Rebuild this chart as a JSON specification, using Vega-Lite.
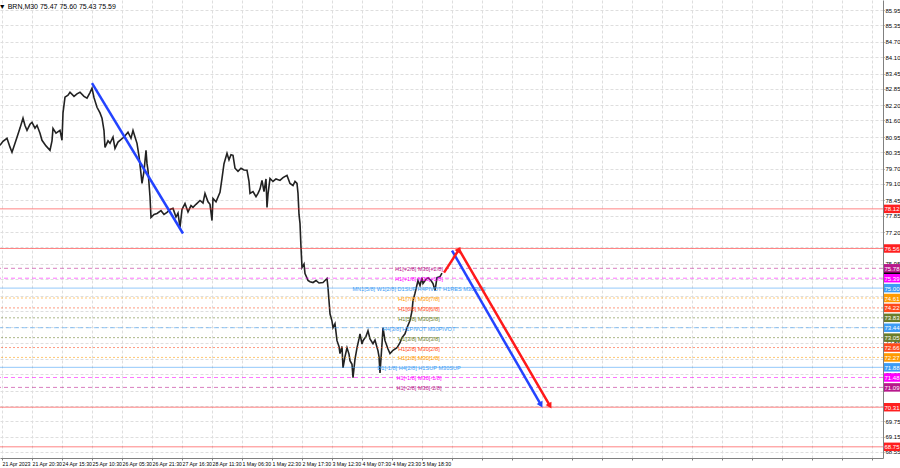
{
  "$schema": "https://vega.github.io/schema/vega-lite/v6.json",
  "width": 883,
  "height": 458,
  "autosize": {"type": "none"},
  "padding": {"left": 0, "top": 0, "right": 17, "bottom": 10},
  "background": "white",
  "config": {
    "view": {"stroke": null},
    "font": "Liberation Sans",
    "axis": {"labelOverlap": false, "labelFlush": false, "labelBound": false, "labelColor": "#000000", "labelFont": "Liberation Sans", "labelFontSize": 6, "tickColor": "#808080", "domainColor": "#808080", "gridColor": "#dedede", "gridDash": [3, 2], "grid": true, "tickSize": 1}
  },
  "resolve": {"axis": {"x": "independent", "y": "independent"}},
  "title": {"text": "▼ BRN,M30  75.47 75.60 75.43 75.59", "anchor": "start", "orient": "top", "offset": -10, "fontSize": 7, "fontWeight": "normal", "color": "#000000", "dx": 2},
  "datasets": {
    "price": [
      {"i":0,"p":80.62},{"i":3,"p":80.78},{"i":7,"p":80.9},{"i":10,"p":80.55},{"i":12,"p":80.35},{"i":15,"p":80.7},{"i":17,"p":80.94},{"i":20,"p":81.3},{"i":23,"p":81.69},{"i":25,"p":81.4},{"i":27,"p":81.21},{"i":30,"p":81.45},{"i":32,"p":81.53},{"i":35,"p":81.3},{"i":37,"p":81.41},{"i":40,"p":81.1},{"i":42,"p":80.82},{"i":46,"p":80.6},{"i":50,"p":80.43},{"i":52,"p":80.8},{"i":53,"p":81.29},{"i":56,"p":81.1},{"i":60,"p":81.21},{"i":62,"p":80.82},{"i":63,"p":81.9},{"i":65,"p":82.52},{"i":68,"p":82.6},{"i":70,"p":82.71},{"i":74,"p":82.55},{"i":77,"p":82.65},{"i":80,"p":82.71},{"i":84,"p":82.55},{"i":87,"p":82.48},{"i":90,"p":82.7},{"i":92,"p":82.87},{"i":94,"p":82.5},{"i":97,"p":82.12},{"i":100,"p":81.9},{"i":102,"p":81.69},{"i":104,"p":81.2},{"i":105,"p":80.54},{"i":108,"p":80.8},{"i":110,"p":80.7},{"i":113,"p":80.95},{"i":115,"p":80.5},{"i":118,"p":80.75},{"i":120,"p":80.82},{"i":124,"p":80.95},{"i":128,"p":81.14},{"i":131,"p":80.9},{"i":133,"p":81.21},{"i":135,"p":80.95},{"i":137,"p":80.7},{"i":139,"p":80.2},{"i":141,"p":79.5},{"i":142,"p":79.12},{"i":144,"p":79.6},{"i":146,"p":80.43},{"i":147,"p":79.9},{"i":148,"p":79.64},{"i":150,"p":78.6},{"i":151,"p":77.78},{"i":154,"p":77.9},{"i":157,"p":77.94},{"i":161,"p":78.05},{"i":164,"p":77.9},{"i":167,"p":77.98},{"i":170,"p":78.1},{"i":173,"p":78.14},{"i":176,"p":77.8},{"i":178,"p":77.95},{"i":180,"p":77.39},{"i":182,"p":78.1},{"i":185,"p":78.33},{"i":188,"p":78.0},{"i":191,"p":78.25},{"i":193,"p":78.18},{"i":196,"p":78.3},{"i":200,"p":78.45},{"i":203,"p":78.35},{"i":205,"p":78.73},{"i":208,"p":78.4},{"i":210,"p":78.3},{"i":212,"p":77.66},{"i":213,"p":78.53},{"i":216,"p":78.4},{"i":220,"p":78.77},{"i":222,"p":79.32},{"i":224,"p":79.9},{"i":227,"p":80.31},{"i":229,"p":80.05},{"i":231,"p":80.25},{"i":233,"p":80.23},{"i":235,"p":79.72},{"i":238,"p":79.6},{"i":241,"p":79.72},{"i":244,"p":79.65},{"i":247,"p":79.64},{"i":249,"p":79.2},{"i":250,"p":78.73},{"i":253,"p":78.8},{"i":256,"p":78.6},{"i":258,"p":78.73},{"i":260,"p":78.9},{"i":262,"p":79.24},{"i":264,"p":78.8},{"i":266,"p":79.3},{"i":267,"p":78.18},{"i":268,"p":78.7},{"i":270,"p":79.32},{"i":273,"p":79.2},{"i":276,"p":79.3},{"i":280,"p":79.24},{"i":283,"p":79.35},{"i":287,"p":79.44},{"i":290,"p":79.12},{"i":293,"p":79.04},{"i":295,"p":79.2},{"i":297,"p":79.12},{"i":298,"p":78.73},{"i":299,"p":77.9},{"i":300,"p":77.55},{"i":301,"p":76.6},{"i":302,"p":75.81},{"i":304,"p":75.95},{"i":305,"p":75.57},{"i":307,"p":75.4},{"i":308,"p":75.3},{"i":310,"p":75.25},{"i":313,"p":75.22},{"i":316,"p":75.3},{"i":319,"p":75.2},{"i":323,"p":75.22},{"i":325,"p":75.3},{"i":327,"p":75.38},{"i":328,"p":75.02},{"i":329,"p":74.5},{"i":330,"p":73.99},{"i":332,"p":73.7},{"i":333,"p":73.44},{"i":335,"p":73.6},{"i":337,"p":72.93},{"i":339,"p":72.7},{"i":340,"p":72.42},{"i":342,"p":72.7},{"i":343,"p":71.86},{"i":345,"p":72.3},{"i":347,"p":72.65},{"i":349,"p":72.4},{"i":350,"p":72.14},{"i":352,"p":72.0},{"i":353,"p":71.47},{"i":355,"p":72.2},{"i":357,"p":72.65},{"i":359,"p":73.0},{"i":360,"p":73.2},{"i":362,"p":72.8},{"i":363,"p":72.93},{"i":366,"p":73.1},{"i":368,"p":73.32},{"i":370,"p":73.0},{"i":373,"p":72.81},{"i":375,"p":72.95},{"i":378,"p":72.53},{"i":379,"p":72.3},{"i":380,"p":71.66},{"i":382,"p":72.8},{"i":383,"p":73.44},{"i":385,"p":72.93},{"i":388,"p":72.6},{"i":390,"p":72.42},{"i":393,"p":72.55},{"i":397,"p":72.65},{"i":400,"p":72.85},{"i":402,"p":73.05},{"i":405,"p":73.2},{"i":407,"p":73.44},{"i":410,"p":73.72},{"i":412,"p":74.1},{"i":413,"p":74.51},{"i":415,"p":74.8},{"i":418,"p":75.3},{"i":420,"p":75.1},{"i":422,"p":75.41},{"i":423,"p":75.18},{"i":426,"p":75.35},{"i":428,"p":75.41},{"i":431,"p":75.3},{"i":433,"p":75.18},{"i":435,"p":74.9},{"i":437,"p":75.41},{"i":440,"p":75.45},{"i":442,"p":75.59}
    ],
    "levels": [
      {"price":75.59,"lvl":"close"},
      {"price":78.12,"lvl":"ext"},
      {"price":76.56,"lvl":"ext"},
      {"price":75.78,"lvl":"+2/8","txt":"H1[+2/8] M30[+2/8]"},
      {"price":75.39,"lvl":"+1/8","txt":"H1[+1/8] M30[+1/8]"},
      {"price":75.0,"lvl":"8/8","txt":"MN1[5/8] W1[2/8] D1SUP H4PIVOT H1RES M30RES"},
      {"price":74.61,"lvl":"7/8","txt":"H1[7/8] M30[7/8]"},
      {"price":74.22,"lvl":"6/8","txt":"H1[6/8] M30[6/8]"},
      {"price":73.83,"lvl":"5/8","txt":"H1[5/8] M30[5/8]"},
      {"price":73.44,"lvl":"4/8","txt":"H4[3/8] H1PIVOT M30PIVOT"},
      {"price":73.05,"lvl":"3/8","txt":"H1[3/8] M30[3/8]"},
      {"price":72.66,"lvl":"2/8","txt":"H1[2/8] M30[2/8]"},
      {"price":72.27,"lvl":"1/8","txt":"H1[1/8] M30[1/8]"},
      {"price":71.88,"lvl":"0/8","txt":"D1[-1/8] H4[2/8] H1SUP M30SUP"},
      {"price":71.48,"lvl":"-1/8","txt":"H1[-1/8] M30[-1/8]"},
      {"price":71.09,"lvl":"-2/8","txt":"H1[-2/8] M30[-2/8]"},
      {"price":70.31,"lvl":"ext"},
      {"price":68.75,"lvl":"ext"}
    ],
    "trend": [
      {"id":"b1","seg":"blue","i":92,"p":83.07},
      {"id":"b1","seg":"blue","i":183,"p":77.15},
      {"id":"b2","seg":"blue","i":452,"p":76.48},
      {"id":"b2","seg":"blue","i":541,"p":70.4},
      {"id":"r1","seg":"red","i":444,"p":75.61},
      {"id":"r1","seg":"red","i":459,"p":76.52},
      {"id":"r1","seg":"red","i":550,"p":70.36}
    ],
    "headsDown": [
      {"seg":"blue","i":541,"p":70.4},
      {"seg":"red","i":550,"p":70.36}
    ],
    "headsUp": [
      {"seg":"red","i":459,"p":76.52}
    ]
  },
  "layer": [
    {
      "data": {"name": "price"},
      "mark": {"type": "line", "color": "#222222", "strokeWidth": 1.6},
      "encoding": {
        "x": {"field": "i", "type": "quantitative", "title": null, "scale": {"domain": [0, 883], "nice": false, "zero": false},
          "axis": {"orient": "bottom", "title": null, "values": [2,32,62,92,122,152,182,212,242,272,302,332,362,392,422,452,482,512,542,572,602,632,662,692,722,752,782,812,842,872],
            "labelExpr": "['21 Apr 2023','21 Apr 20:30','24 Apr 15:30','25 Apr 10:30','26 Apr 05:30','26 Apr 21:30','27 Apr 16:30','28 Apr 11:30','1 May 06:30','1 May 22:30','2 May 17:30','3 May 12:30','4 May 07:30','4 May 23:30','5 May 18:30'][round((datum.value-2)/30)] || ''",
            "labelAlign": "left", "labelFontSize": 5.2, "labelPadding": 1, "tickSize": 2, "labelOverlap": false}},
        "y": {"field": "p", "type": "quantitative", "title": null, "scale": {"domain": [68.31, 86.345], "nice": false, "zero": false},
          "axis": {"orient": "right", "title": null, "values": [85.95,85.35,84.7,84.1,83.45,82.85,82.2,81.6,80.95,80.35,79.7,79.1,78.45,77.85,77.2,76.6,75.95,75.35,74.7,74.1,73.45,72.85,72.2,71.6,70.95,70.35,69.75,69.15,68.55],
            "labelExpr": "indexof([76.6,75.35,74.7,74.1,73.45,72.2,70.95,70.35], datum.value) >= 0 ? '' : format(datum.value, '.2f')",
            "labelFontSize": 6, "labelPadding": 1, "tickSize": 1, "labelOverlap": false}}
      }
    },
    {
      "data": {"name": "levels"},
      "transform": [{"filter": "datum.lvl != 'close'"}],
      "mark": {"type": "rule", "strokeWidth": 1, "opacity": 0.55},
      "encoding": {
        "y": {"field": "price", "type": "quantitative", "axis": null, "scale": {"domain": [68.31, 86.345], "nice": false, "zero": false}},
        "color": {"field": "lvl", "type": "nominal", "legend": null,
          "scale": {"domain": ["ext","+2/8","+1/8","8/8","7/8","6/8","5/8","4/8","3/8","2/8","1/8","0/8","-1/8","-2/8","close","blue","red"],
            "range": ["#ff1f1f","#b8178c","#ff00ff","#3d9cf5","#ff9a00","#ff4a1a","#6b7d2a","#3d9cf5","#6b7d2a","#ff4a1a","#ff9a00","#3d9cf5","#ff00ff","#b8178c","#000000","#2343ff","#ff1a1a"]}},
        "strokeDash": {"field": "lvl", "type": "nominal", "legend": null,
          "scale": {"domain": ["ext","+2/8","+1/8","8/8","7/8","6/8","5/8","4/8","3/8","2/8","1/8","0/8","-1/8","-2/8"],
            "range": [[1,0],[4,3],[4,3],[1,0],[2,2],[2,2],[2,2],[5,3],[2,2],[2,2],[2,2],[1,0],[4,3],[4,3]]}}
      }
    },
    {
      "data": {"name": "levels"},
      "transform": [{"filter": "isValid(datum.txt)"}],
      "mark": {"type": "text", "font": "Liberation Sans", "fontSize": 5.6, "align": "center", "baseline": "middle", "dy": 1},
      "encoding": {
        "x": {"datum": 419, "type": "quantitative", "axis": null, "scale": {"domain": [0, 883], "nice": false, "zero": false}},
        "y": {"field": "price", "type": "quantitative", "axis": null, "scale": {"domain": [68.31, 86.345], "nice": false, "zero": false}},
        "text": {"field": "txt"},
        "color": {"field": "lvl", "type": "nominal", "legend": null,
          "scale": {"domain": ["ext","+2/8","+1/8","8/8","7/8","6/8","5/8","4/8","3/8","2/8","1/8","0/8","-1/8","-2/8","close","blue","red"],
            "range": ["#ff1f1f","#b8178c","#ff00ff","#3d9cf5","#ff9a00","#ff4a1a","#6b7d2a","#3d9cf5","#6b7d2a","#ff4a1a","#ff9a00","#3d9cf5","#ff00ff","#b8178c","#000000","#2343ff","#ff1a1a"]}}
      }
    },
    {
      "data": {"name": "trend"},
      "mark": {"type": "line", "strokeWidth": 2.5},
      "encoding": {
        "x": {"field": "i", "type": "quantitative", "axis": null, "scale": {"domain": [0, 883], "nice": false, "zero": false}},
        "y": {"field": "p", "type": "quantitative", "axis": null, "scale": {"domain": [68.31, 86.345], "nice": false, "zero": false}},
        "detail": {"field": "id"},
        "color": {"field": "seg", "type": "nominal", "legend": null,
          "scale": {"domain": ["ext","+2/8","+1/8","8/8","7/8","6/8","5/8","4/8","3/8","2/8","1/8","0/8","-1/8","-2/8","close","blue","red"],
            "range": ["#ff1f1f","#b8178c","#ff00ff","#3d9cf5","#ff9a00","#ff4a1a","#6b7d2a","#3d9cf5","#6b7d2a","#ff4a1a","#ff9a00","#3d9cf5","#ff00ff","#b8178c","#000000","#2343ff","#ff1a1a"]}}
      }
    },
    {
      "data": {"name": "headsDown"},
      "mark": {"type": "point", "shape": "triangle-up", "filled": true, "size": 45, "angle": 150, "opacity": 1},
      "encoding": {
        "x": {"field": "i", "type": "quantitative", "axis": null, "scale": {"domain": [0, 883], "nice": false, "zero": false}},
        "y": {"field": "p", "type": "quantitative", "axis": null, "scale": {"domain": [68.31, 86.345], "nice": false, "zero": false}},
        "color": {"field": "seg", "type": "nominal", "legend": null,
          "scale": {"domain": ["ext","+2/8","+1/8","8/8","7/8","6/8","5/8","4/8","3/8","2/8","1/8","0/8","-1/8","-2/8","close","blue","red"],
            "range": ["#ff1f1f","#b8178c","#ff00ff","#3d9cf5","#ff9a00","#ff4a1a","#6b7d2a","#3d9cf5","#6b7d2a","#ff4a1a","#ff9a00","#3d9cf5","#ff00ff","#b8178c","#000000","#2343ff","#ff1a1a"]}}
      }
    },
    {
      "data": {"name": "headsUp"},
      "mark": {"type": "point", "shape": "triangle-up", "filled": true, "size": 45, "angle": 33, "opacity": 1},
      "encoding": {
        "x": {"field": "i", "type": "quantitative", "axis": null, "scale": {"domain": [0, 883], "nice": false, "zero": false}},
        "y": {"field": "p", "type": "quantitative", "axis": null, "scale": {"domain": [68.31, 86.345], "nice": false, "zero": false}},
        "color": {"field": "seg", "type": "nominal", "legend": null,
          "scale": {"domain": ["ext","+2/8","+1/8","8/8","7/8","6/8","5/8","4/8","3/8","2/8","1/8","0/8","-1/8","-2/8","close","blue","red"],
            "range": ["#ff1f1f","#b8178c","#ff00ff","#3d9cf5","#ff9a00","#ff4a1a","#6b7d2a","#3d9cf5","#6b7d2a","#ff4a1a","#ff9a00","#3d9cf5","#ff00ff","#b8178c","#000000","#2343ff","#ff1a1a"]}}
      }
    },
    {
      "data": {"name": "levels"},
      "mark": {"type": "point", "shape": "M-1,-0.53L1,-0.53L1,0.53L-1,0.53Z", "filled": true, "size": 256, "opacity": 1, "xOffset": 9, "strokeWidth": 0},
      "encoding": {
        "x": {"value": "width"},
        "y": {"field": "price", "type": "quantitative", "axis": null, "scale": {"domain": [68.31, 86.345], "nice": false, "zero": false}},
        "color": {"field": "lvl", "type": "nominal", "legend": null,
          "scale": {"domain": ["ext","+2/8","+1/8","8/8","7/8","6/8","5/8","4/8","3/8","2/8","1/8","0/8","-1/8","-2/8","close","blue","red"],
            "range": ["#ff1f1f","#b8178c","#ff00ff","#3d9cf5","#ff9a00","#ff4a1a","#6b7d2a","#3d9cf5","#6b7d2a","#ff4a1a","#ff9a00","#3d9cf5","#ff00ff","#b8178c","#000000","#2343ff","#ff1a1a"]}}
      }
    },
    {
      "data": {"name": "levels"},
      "transform": [{"filter": "datum.lvl != 'close'"}],
      "mark": {"type": "text", "fontSize": 6, "align": "center", "baseline": "middle", "color": "#ffffff", "xOffset": 9, "dy": 0.5},
      "encoding": {
        "x": {"value": "width"},
        "y": {"field": "price", "type": "quantitative", "axis": null, "scale": {"domain": [68.31, 86.345], "nice": false, "zero": false}},
        "text": {"field": "price", "type": "quantitative", "format": ".2f"}
      }
    }
  ]
}
